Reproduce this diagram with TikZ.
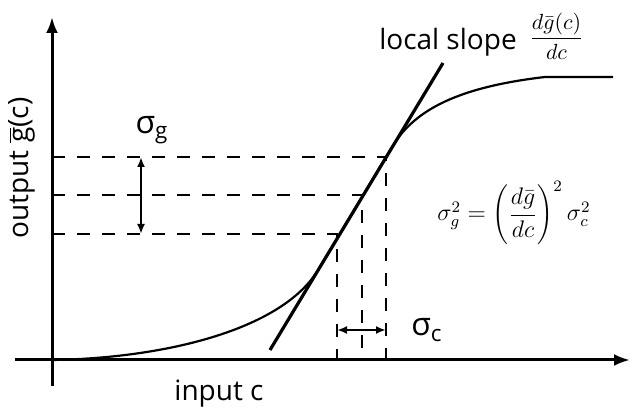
\documentclass[tikz,border=0pt]{standalone}
\usepackage{fontspec}
\newfontfamily\lblfont{Open Sans}
\usetikzlibrary{arrows.meta,positioning}
\tikzset{
  axisline/.style={line width=1.5pt, -{Latex[length=8pt,width=6pt]}},
  guideline/.style={line width=1.3pt, dash pattern=on 6.5pt off 6pt},
  spreadarrow/.style={line width=1.2pt, {Latex[length=5pt,width=4pt]}-{Latex[length=5pt,width=4pt]}},
  lbl/.style={font=\lblfont\fontsize{14}{16}\selectfont, inner sep=0pt},
  siglbl/.style={font=\lblfont\fontsize{16}{18}\selectfont, inner sep=0pt},
  mathlbl/.style={font=\fontsize{12}{14}\selectfont, inner sep=0pt}
}
\begin{document}
\begin{tikzpicture}[x=0.5pt,y=-0.5pt]
  \useasboundingbox (0,0) rectangle (632,411);
  % axes
  \coordinate (o) at (52,360);
  \coordinate (xs) at (15,360);
  \coordinate (xe) at (630,360);
  \coordinate (ys) at (52,386);
  \coordinate (ye) at (52,17);
  \draw[axisline] (xs) -- (xe);
  \draw[axisline] (ys) -- (ye);

  % operating points on the curve
  \coordinate (lo) at (337,234);
  \coordinate (mid) at (362,195);
  \coordinate (hi) at (386,157);
  \draw[guideline] (o |- hi) -- (hi) -- (hi |- o);
  \draw[guideline] (o |- mid) -- (mid) -- (mid |- o);
  \draw[guideline] (o |- lo) -- (lo) -- (lo |- o);

  % response curve and tangent
  \coordinate (k1) at (318,270);
  \coordinate (k2) at (392,147);
  \draw[line width=1.1pt] (o) .. controls (170,358) and (283,328) .. (k1) -- (k2)
    .. controls (412,114) and (450,88) .. (545,77) -- (613,77);
  \coordinate (tA) at (270,350);
  \coordinate (tB) at (443,63);
  \draw[line width=1.6pt] (tA) -- (tB);

  % spreads
  \coordinate (ga) at (141,157);
  \coordinate (gb) at (141,234);
  \draw[spreadarrow] (ga) -- (gb);
  \coordinate (ca) at (337,330);
  \coordinate (cb) at (386,330);
  \draw[spreadarrow] (ca) -- (cb);

  % labels
  \node[siglbl] (sigg) at (152,130) {σ\textsubscript{g}};
  \node[siglbl] (sigc) at (427,330) {σ\textsubscript{c}};
  \node[lbl] (slope) at (448,42) {local slope};
  \node[mathlbl, right=6pt of slope, yshift=3pt] (slopefrac)
    {\fontsize{11}{13}\selectfont$\displaystyle\frac{d\bar g(c)}{dc}$};
  \node[lbl, rotate=90] (ylbl) at (22,168) {output $\overline{\mbox{g}}$(c)};
  \node[lbl] (xlbl) at (219,394) {input c};
  \node[mathlbl] (law) at (514,213)
    {$\sigma_g^2 = \left(\displaystyle\frac{d\bar g}{dc}\right)^2 \sigma_c^2$};
\end{tikzpicture}
\end{document}
